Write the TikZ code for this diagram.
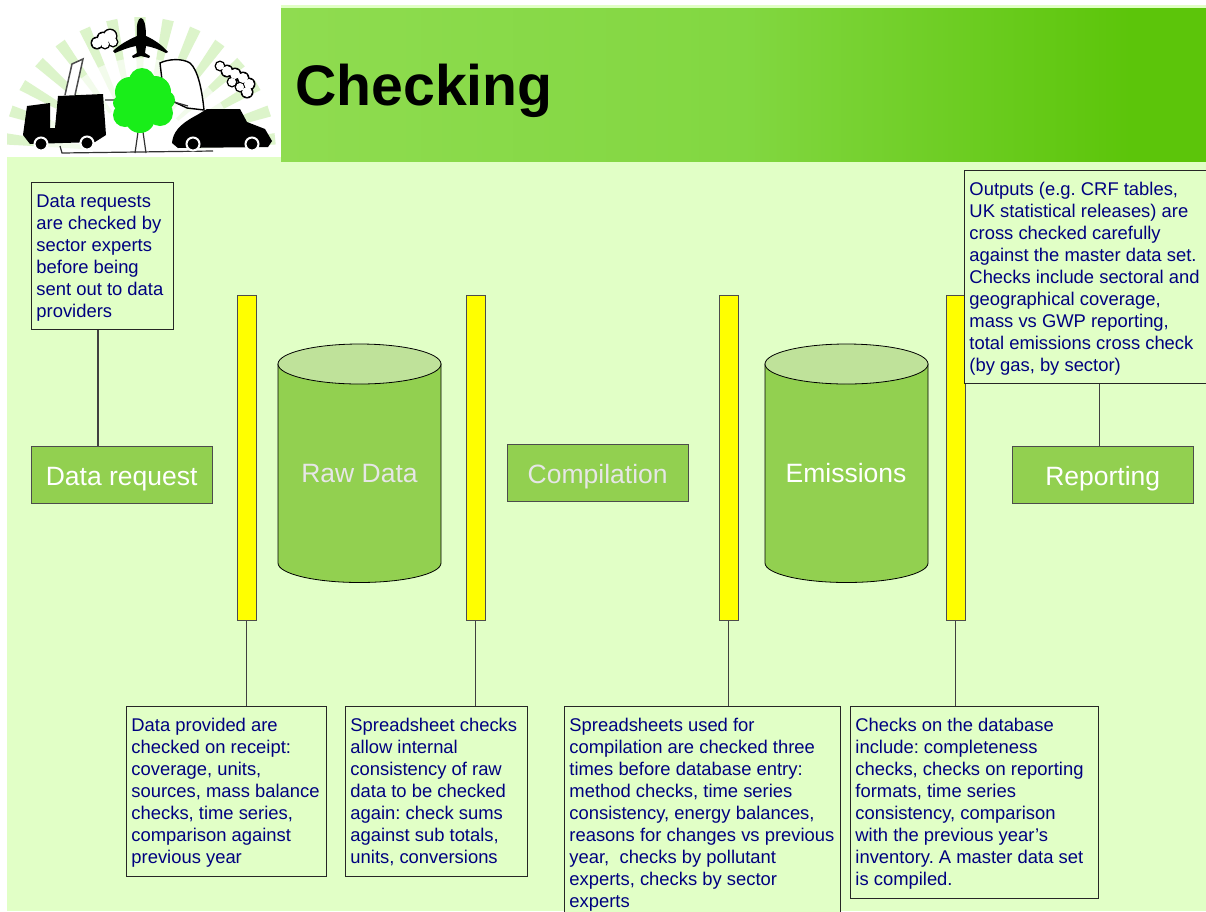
\documentclass[tikz,border=0pt]{standalone}
\usepackage{fontspec}
\setmainfont{Liberation Sans}
\definecolor{bgg}{HTML}{E1FFC6}
\definecolor{boxg}{HTML}{92D050}
\definecolor{topg}{HTML}{BFE29A}
\definecolor{navy}{HTML}{000080}
\definecolor{soft}{HTML}{E6E6E6}
\definecolor{rayouter}{HTML}{DCF4CA}
\definecolor{rayinner}{HTML}{F2FBEB}
\definecolor{pureyellow}{HTML}{FFFF00}
\definecolor{puregreen}{HTML}{19EE19}
\definecolor{headA}{HTML}{8FDC50}
\definecolor{headB}{HTML}{82D741}
\definecolor{headC}{HTML}{5CC50A}
\tikzset{
  x=1pt,y=-1pt,
  note/.style={draw=black!85,line width=0.9pt,fill=bgg,inner sep=0pt,anchor=north west,text=navy,align=left},
  stage/.style={draw=black!70,line width=0.9pt,fill=boxg,inner sep=0pt,anchor=north west,minimum width=180.5pt,minimum height=57pt,text height=27pt,text depth=6pt,font=\fontsize{26.5}{30}\selectfont},
  bar/.style={draw=black!70,line width=0.9pt,fill=pureyellow,inner sep=0pt,anchor=north west,minimum width=18.6pt,minimum height=325pt},
  link/.style={draw=black!75,line width=1.1pt},
  cyl/.style={draw=black,line width=0.8pt},
  wheel/.style={draw=white,line width=2pt,fill=black},
}
\newcommand{\notetext}[3]{\parbox[c][#2pt][t]{#1pt}{\fontsize{18.4}{22}\selectfont\frenchspacing\hspace*{5pt}\parbox[t]{\dimexpr#1pt-5pt}{\vspace*{12pt}\raggedright #3}}}
\newcommand{\drum}[1]{%
  \path[cyl,fill=boxg] (#1,364) -- (#1,563) arc[start angle=180,end angle=360,x radius=81.5pt,y radius=19.5pt] -- ++(0,-199) -- cycle;
  \path[cyl,fill=topg] (#1+81.5,364) ellipse[x radius=81.5pt,y radius=20pt];
}
\begin{document}
\begin{tikzpicture}
\useasboundingbox (0,0) rectangle (1206,911);
\clip (0,0) rectangle (1206,911);
\fill[white] (0,0) rectangle (1206,911);
\fill[bgg] (7,157) rectangle (1206,911);
\fill[bgg] (281,5) rectangle (1206,9);
\begin{scope}
\clip (281,8) rectangle (1206,161);
\shade[left color=headA,right color=headB] (281,4) rectangle (744.5,165);
\shade[left color=headB,right color=headC] (744,4) rectangle (1130.5,165);
\fill[headC] (1130,4) rectangle (1206,165);
\end{scope}
% logo rays
\begin{scope}
\clip (7,5) rectangle (281,157);
\foreach \a in {6,18,...,174}{
  \fill[rayinner,shift={(140,153)}] (-\a+2:50) -- (-\a+2.2:95) -- (-\a-2.2:95) -- (-\a-2:50) -- cycle;
  \fill[rayouter,shift={(140,153)}] (-\a+2.2:95) -- (-\a+2.4:136) -- (-\a-2.4:136) -- (-\a-2.2:95) -- cycle;
}
\end{scope}
% plane
\fill[black] (137,36) .. controls (136,25) and (138,18) .. (141,18) .. controls (144,18) and (146,25) .. (146,36) .. controls (155,40) and (163,46) .. (168,52) -- (166,53) .. controls (158,49) and (152,47) .. (146,46) -- (145,53) -- (150,56) -- (149,58) -- (141,56) -- (133,58) -- (132,56) -- (137,53) -- (136,46) .. controls (130,47) and (122,50) .. (115,53) -- (113,51) .. controls (119,45) and (128,40) .. (137,36) -- cycle;
% clouds: dark lobes under white lobes
\foreach \px/\py/\r in {97/43/5,103/38/5,110/36/6,113/42/4,105/44/4}{\fill[black] (\px,\py) circle[radius=\r+1.5];}
\foreach \px/\py/\r in {97/43/5,103/38/5,110/36/6,113/42/4,105/44/4}{\fill[white] (\px,\py) circle[radius=\r];}
\foreach \px/\py/\r in {220/66/4,227/71/5,235/74/5,243/78/5,249/84/5,247/92/5,240/87/4,232/82/4}{\fill[black] (\px,\py) circle[radius=\r+1.5];}
\foreach \px/\py/\r in {220/66/4,227/71/5,235/74/5,243/78/5,249/84/5,247/92/5,240/87/4,232/82/4}{\fill[white] (\px,\py) circle[radius=\r];}
% chimney, building
\draw[line width=1.5pt,black!70,fill=white] (65,95) -- (72,64) -- (83,59) -- (75,95);
\draw[line width=1.4pt,fill=white] (162,80) -- (160,63) .. controls (168,59) and (182,58) .. (190,63) .. controls (198,70) and (202,90) .. (204,110) -- (187,108) -- (170,100) -- cycle;
% truck
\fill[black] (23,135) -- (27,106) -- (50,103) -- (50,128) -- (55,128) -- (58,96) -- (103,94) -- (106,135) -- (95,142) -- (30,144) -- cycle;
\path[wheel] (41,144) circle[radius=6.5];
\path[wheel] (87,143) circle[radius=6.5];
% ground, trunk, branches
\draw[line width=1.2pt,black!80] (60,146) -- (62,153) -- (213,151);
\draw[line width=1.2pt,black!80] (135,153) -- (139,125) (146,153) -- (142,125);
\draw[line width=1.2pt,black!80] (105,100) -- (116,100) (174,102) -- (188,106);
% tree
\foreach \px/\py/\r in {142/81/13,130/92/15,155/92/16,125/115/12,140/106/22,160/113/13,166/100/9,120/103/7,140/118/15}{\fill[puregreen] (\px,\py) circle[radius=\r];}
% car
\fill[black] (172,143) .. controls (173,133) and (178,125) .. (197,115) -- (207,109) -- (240,109) -- (247,122) -- (265,129) -- (272,141) -- (268,147) -- (178,148) -- cycle;
\path[wheel] (193,144) circle[radius=6.5];
\path[wheel] (252,144) circle[radius=6.5];
% title
\node[anchor=base west,inner sep=0pt,font=\bfseries\fontsize{57.2}{60}\selectfont] (title) at (295,105.5) {Checking};
% cylinders
\drum{278}
\drum{765}
\node[text=soft,font=\fontsize{26.5}{30}\selectfont,inner sep=0pt] (raw) at (359.5,474) {Raw Data};
\node[text=white,font=\fontsize{26.5}{30}\selectfont,inner sep=0pt] (emi) at (846,473.5) {Emissions};
% stages
\node[stage,text=white] (req) at (31,446) {Data request};
\node[stage,text=soft] (comp) at (507,444) {Compilation};
\node[stage,text=white] (rep) at (1012,446) {Reporting};
% bars
\node[bar] (b1) at (237,295) {};
\node[bar] (b2) at (466,295) {};
\node[bar] (b3) at (719,295) {};
\node[bar] (b4) at (946,295) {};
% notes
\node[note] (n1) at (31,182) {\notetext{142}{147}{Data requests\\are checked by\\sector experts\\before being\\sent out to data\\providers}};
\node[note] (n5) at (964,170) {\notetext{250}{213}{Outputs (e.g. CRF tables,\\UK statistical releases) are\\cross checked carefully\\against the master data set.\\Checks include sectoral and\\geographical coverage,\\mass vs GWP reporting,\\total emissions cross check\\(by gas, by sector)}};
\node[note] (a) at (126,706) {\notetext{199.5}{170}{Data provided are\\checked on receipt:\\coverage, units,\\sources, mass balance\\checks, time series,\\comparison against\\previous year}};
\node[note] (b) at (345,706) {\notetext{181.5}{170}{Spreadsheet checks\\allow internal\\consistency of raw\\data to be checked\\again: check sums\\against sub totals,\\units, conversions}};
\node[note] (c) at (564,706) {\notetext{276}{230}{Spreadsheets used for\\compilation are checked three\\times before database entry:\\method checks, time series\\consistency, energy balances,\\reasons for changes vs previous\\year,\ \ checks by pollutant\\experts, checks by sector\\experts}};
\node[note] (d) at (850,706) {\notetext{247.5}{191.5}{Checks on the database\\include: completeness\\checks, checks on reporting\\formats, time series\\consistency, comparison\\with the previous year’s\\inventory. A master data set\\is compiled.}};
% connectors
\draw[link] ([xshift=-4.5pt]n1.south) -- ([xshift=-4.5pt]n1.south |- req.north);
\draw[link] (b1.south) -- (b1.south |- a.north);
\draw[link] (b2.south) -- (b2.south |- b.north);
\draw[link] (b3.south) -- (b3.south |- c.north);
\draw[link] (b4.south) -- (b4.south |- d.north);
\draw[link] ([xshift=-3pt]rep.north) -- ([xshift=-3pt]rep.north |- n5.south);
\end{tikzpicture}
\end{document}
